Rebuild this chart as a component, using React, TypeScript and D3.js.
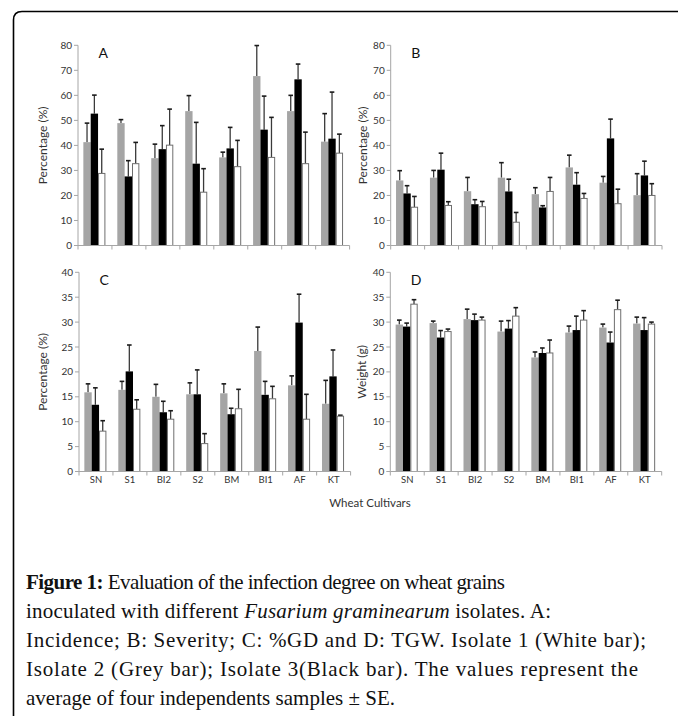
import React from "react";
import * as d3 from "d3";

const categories = ["SN", "S1", "BI2", "S2", "BM", "BI1", "AF", "KT"];

// Panel A: Incidence (%)
const aGrey = [41.3, 48.9, 34.9, 53.7, 35.2, 67.7, 53.7, 41.5];
const aGreyErr = [7.6, 1.4, 5.6, 6.2, 2.1, 12.2, 6.3, 11.2];
const aBlack = [52.7, 27.6, 38.5, 32.7, 38.8, 46.3, 66.4, 42.7];
const aBlackErr = [7.4, 6.3, 9.4, 16.5, 8.4, 13.4, 6.1, 18.6];
const aWhite = [28.8, 32.7, 40.1, 21.3, 31.5, 35.2, 32.7, 36.9];
const aWhiteErr = [9.7, 8.5, 14.4, 9.4, 10.5, 16.0, 12.6, 7.6];

// Panel B: Severity (%)
const bGrey = [26.0, 27.1, 21.7, 27.1, 20.5, 31.2, 25.1, 20.1];
const bGreyErr = [3.9, 2.9, 5.5, 6.0, 2.6, 4.9, 2.5, 8.6];
const bBlack = [20.8, 30.3, 16.5, 21.6, 15.2, 24.3, 42.8, 28.0];
const bBlackErr = [3.1, 6.6, 1.8, 4.9, 0.7, 4.8, 7.7, 5.7];
const bWhite = [15.3, 16.0, 15.5, 9.3, 21.6, 18.8, 16.7, 20.0];
const bWhiteErr = [4.3, 1.5, 2.1, 3.9, 5.6, 2.0, 5.8, 4.7];

// Panel C: %GD
const cGrey = [15.9, 16.4, 15.0, 15.5, 15.7, 24.2, 17.3, 13.6];
const cGreyErr = [1.7, 1.7, 2.5, 2.3, 1.9, 4.8, 1.9, 4.7];
const cBlack = [13.4, 20.1, 11.9, 15.5, 11.5, 15.4, 29.9, 19.1];
const cBlackErr = [3.4, 5.3, 2.2, 4.9, 1.2, 2.7, 5.7, 5.3];
const cWhite = [8.1, 12.5, 10.5, 5.6, 12.6, 14.6, 10.5, 11.1];
const cWhiteErr = [2.1, 1.9, 1.7, 2.0, 3.9, 2.5, 5.0, 0.2];

// Panel D: TGW (g)
const dGrey = [29.5, 29.8, 30.6, 28.1, 22.9, 27.9, 28.9, 29.7];
const dGreyErr = [0.9, 0.4, 2.0, 2.1, 1.1, 1.3, 0.7, 1.3];
const dBlack = [29.1, 26.9, 30.4, 28.7, 23.8, 28.4, 25.9, 28.4];
const dBlackErr = [0.7, 1.4, 1.2, 1.6, 1.0, 2.8, 2.1, 2.5];
const dWhite = [33.6, 28.1, 30.4, 31.2, 23.8, 30.4, 32.5, 29.6];
const dWhiteErr = [0.9, 0.5, 0.6, 1.7, 2.6, 1.9, 1.9, 0.4];

const aTicks = [0, 10, 20, 30, 40, 50, 60, 70, 80];
const cTicks = [0, 5, 10, 15, 20, 25, 30, 35, 40];

const FONT = "Lato, 'Open Sans', sans-serif";
const SERIF = "'Liberation Serif', 'DejaVu Serif', serif";

type Series = { values: number[]; errs: number[]; fill: string; stroke: string };

type PanelProps = {
  x0: number;
  x1: number;
  yTop: number;
  yBottom: number;
  ticks: number[];
  letter: string;
  yLabel: string;
  yLabelX: number;
  series: Series[];
  showCats: boolean;
};

function Panel(p: PanelProps) {
  const max = p.ticks[p.ticks.length - 1];
  const y = d3.scaleLinear().domain([0, max]).range([p.yBottom, p.yTop]);
  const x = d3.scaleBand<string>().domain(categories).range([p.x0, p.x1]).padding(0);
  const band = x.bandwidth();
  const bw = 7.35;
  const inner = d3
    .scaleBand<number>()
    .domain([0, 1, 2])
    .range([0, bw * 3])
    .padding(0);
  const off = (band - bw * 3) / 2 - 0.6;
  const axisColor = "#a6a6a6";
  return (
    <g>
      {p.series.map((s, si) =>
        categories.map((c, i) => {
          const bx = (x(c) as number) + off + (inner(si) as number);
          const v = s.values[i];
          const top = y(v);
          const et = y(v + s.errs[i]);
          const cx = bx + bw / 2;
          return (
            <g key={`${si}-${i}`}>
              <line x1={cx} x2={cx} y1={top} y2={et} stroke="#3a3a3a" strokeWidth={1.3} />
              <line x1={cx - 2.3} x2={cx + 2.3} y1={et} y2={et} stroke="#1a1a1a" strokeWidth={1.6} />
              <rect
                x={bx + (s.stroke !== "none" ? 0.5 : 0)}
                y={top}
                width={bw - (s.stroke !== "none" ? 1 : 0)}
                height={p.yBottom - top}
                fill={s.fill}
                stroke={s.stroke}
                strokeWidth={1}
              />
            </g>
          );
        })
      )}
      <line x1={p.x0} x2={p.x0} y1={p.yTop} y2={p.yBottom} stroke={axisColor} strokeWidth={1} />
      <line x1={p.x0} x2={p.x1} y1={p.yBottom} y2={p.yBottom} stroke={axisColor} strokeWidth={1} />
      {p.ticks.map((t) => (
        <g key={t}>
          <line x1={p.x0 - 4} x2={p.x0} y1={y(t)} y2={y(t)} stroke={axisColor} strokeWidth={1} />
          <text
            x={p.x0 - 6}
            y={y(t)}
            dy="0.35em"
            textAnchor="end"
            fontSize={10}
            fontFamily={FONT}
            fill="#333"
          >
            {t}
          </text>
        </g>
      ))}
      {d3.range(categories.length + 1).map((k) => (
        <line
          key={k}
          x1={p.x0 + k * band}
          x2={p.x0 + k * band}
          y1={p.yBottom}
          y2={p.yBottom + 4}
          stroke={axisColor}
          strokeWidth={1}
        />
      ))}
      {p.showCats &&
        categories.map((c) => (
          <text
            key={c}
            x={(x(c) as number) + band / 2}
            y={p.yBottom + 11}
            textAnchor="middle"
            fontSize={9.5}
            fontFamily={FONT}
            fill="#333"
          >
            {c}
          </text>
        ))}
      <text
        x={p.x0 + 20.5}
        y={p.yTop + 12.9}
        fontSize={14}
        fontFamily={FONT}
        fill="#111"
      >
        {p.letter}
      </text>
      <text
        transform={`translate(${p.yLabelX},${(p.yTop + p.yBottom) / 2}) rotate(-90)`}
        textAnchor="middle"
        dy="0.35em"
        fontSize={12}
        fontFamily={FONT}
        fill="#333"
      >
        {p.yLabel}
      </text>
    </g>
  );
}

const GREY = "#a5a5a5";
const BLACK = "#000000";
const WHITE = "#ffffff";
const WSTROKE = "#6e6e6e";

export default function App() {
  const mk = (g: number[], ge: number[], b: number[], be: number[], w: number[], we: number[]): Series[] => [
    { values: g, errs: ge, fill: GREY, stroke: "none" },
    { values: b, errs: be, fill: BLACK, stroke: "none" },
    { values: w, errs: we, fill: WHITE, stroke: WSTROKE },
  ];
  const capX = 26;
  const capY = 589;
  const lh = 29;
  const cs = 21;
  return (
    <svg
      width={678}
      height={716}
      style={{ position: "absolute", left: 0, top: 0, background: "#fff" }}
    >
      <rect x={0} y={0} width={678} height={716} fill="#fff" />
      <path d="M13.5,716 L13.5,20 Q13.5,11.5 22,11.5 L678,11.5" fill="none" stroke="#000" strokeWidth={1.6} />
      <Panel
        x0={78}
        x1={349.6}
        yTop={45.3}
        yBottom={245.5}
        ticks={aTicks}
        letter="A"
        yLabel="Percentage (%)"
        yLabelX={43}
        series={mk(aGrey, aGreyErr, aBlack, aBlackErr, aWhite, aWhiteErr)}
        showCats={false}
      />
      <Panel
        x0={390.7}
        x1={662}
        yTop={45.3}
        yBottom={245.5}
        ticks={aTicks}
        letter="B"
        yLabel="Percentage (%)"
        yLabelX={363}
        series={mk(bGrey, bGreyErr, bBlack, bBlackErr, bWhite, bWhiteErr)}
        showCats={false}
      />
      <Panel
        x0={79}
        x1={350.6}
        yTop={272.3}
        yBottom={471.5}
        ticks={cTicks}
        letter="C"
        yLabel="Percentage (%)"
        yLabelX={43}
        series={mk(cGrey, cGreyErr, cBlack, cBlackErr, cWhite, cWhiteErr)}
        showCats={true}
      />
      <Panel
        x0={390.3}
        x1={661.7}
        yTop={272.3}
        yBottom={471.5}
        ticks={cTicks}
        letter="D"
        yLabel="Weight (g)"
        yLabelX={362}
        series={mk(dGrey, dGreyErr, dBlack, dBlackErr, dWhite, dWhiteErr)}
        showCats={true}
      />
      <text x={370} y={507} textAnchor="middle" fontSize={11.5} fontFamily={FONT} fill="#333">
        Wheat Cultivars
      </text>
      <g fontFamily={SERIF} fontSize={cs} fill="#111">
        <text x={capX} y={capY} textLength={479} lengthAdjust="spacing">
          <tspan fontWeight="bold">Figure 1:</tspan>
          <tspan> Evaluation of the infection degree on wheat grains</tspan>
        </text>
        <text x={capX} y={capY + lh} textLength={525} lengthAdjust="spacing">
          <tspan>inoculated with different </tspan>
          <tspan fontStyle="italic">Fusarium graminearum</tspan>
          <tspan> isolates. A:</tspan>
        </text>
        <text x={capX} y={capY + lh * 2} textLength={620} lengthAdjust="spacing">
          Incidence; B: Severity; C: %GD and D: TGW. Isolate 1 (White bar);
        </text>
        <text x={capX} y={capY + lh * 3} textLength={612} lengthAdjust="spacing">
          Isolate 2 (Grey bar); Isolate 3(Black bar). The values represent the
        </text>
        <text x={capX} y={capY + lh * 4} textLength={369} lengthAdjust="spacing">
          average of four independents samples ± SE.
        </text>
      </g>
    </svg>
  );
}
